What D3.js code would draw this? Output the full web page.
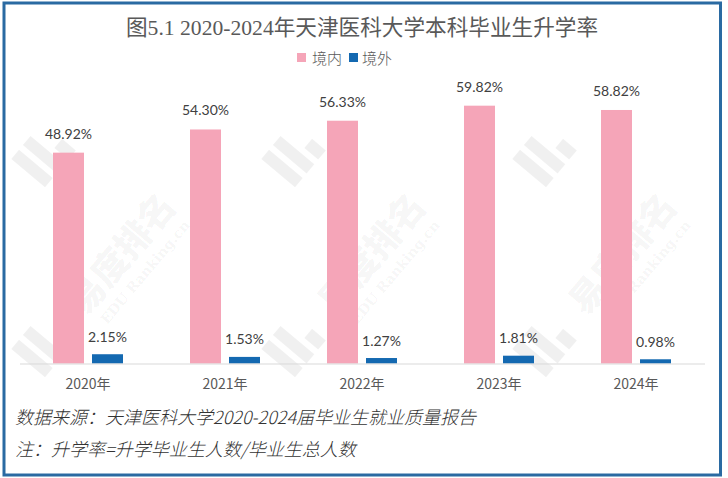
<!DOCTYPE html>
<html>
<head>
<meta charset="utf-8">
<script src="https://cdn.jsdelivr.net/npm/d3@7/dist/d3.min.js"></script>
<style>
  html, body { margin: 0; padding: 0; background: #ffffff; }
  svg { display: block; }
</style>
</head>
<body>
<svg id="chart" width="728" height="478"></svg>
<script>
// ---- data ----
const years = ["2020年", "2021年", "2022年", "2023年", "2024年"];
const seriesNames = ["境内", "境外"];
const domestic = [48.92, 54.30, 56.33, 59.82, 58.82];
const abroad = [2.15, 1.53, 1.27, 1.81, 0.98];
const titleText = "图5.1 2020-2024年天津医科大学本科毕业生升学率";
const sourceText = "数据来源：天津医科大学2020-2024届毕业生就业质量报告";
const noteText = "注：升学率=升学毕业生人数/毕业生总人数";
const watermarkMain = "易度排名";
const watermarkSub = "EDU Ranking.cn";

const colors = { "境内": "#f5a5b8", "境外": "#1469b1" };

const svg = d3.select("#chart");
const W = 728, H = 478;

svg.append("rect").attr("x", 0).attr("y", 0).attr("width", W).attr("height", H).attr("fill", "#ffffff");

// ---- watermark (faint, behind everything) ----
const wm = svg.append("g").attr("class", "watermark");
const wmX = [50, 300, 551];
const wmY = [147, 337, 527];
wmY.forEach((yy, row) => wmX.forEach(xx => {
  const g = wm.append("g").attr("transform", `translate(${xx},${yy}) rotate(-50)`);
  [[-34, -22, 12, 44], [-16, -22, 12, 44], [2, 4, 12, 18]].forEach(r => {
    g.append("rect").attr("x", r[0]).attr("y", r[1]).attr("width", r[2]).attr("height", r[3])
      .attr("fill", "#000").attr("fill-opacity", 0.06);
  });
  if (row === 1) {
    g.append("text").attr("x", 38).attr("y", 14)
      .attr("font-family", "'Noto Sans CJK SC', sans-serif").attr("font-weight", 900)
      .attr("font-size", 36).attr("fill", "#000").attr("fill-opacity", 0.05)
      .text(watermarkMain);
    g.append("text").attr("x", 46).attr("y", 36)
      .attr("font-family", "'DejaVu Serif', serif").attr("font-weight", "bold")
      .attr("font-size", 14).attr("fill", "#000").attr("fill-opacity", 0.05)
      .text(watermarkSub);
  }
}));

// ---- scales ----
const x = d3.scaleBand().domain(years).range([19.5, 704.5]).paddingInner(0).paddingOuter(0);
const xs = d3.scaleBand().domain(seriesNames).range([33.5, 103.5]).paddingInner(8 / 39).paddingOuter(0);
const y = d3.scaleLinear().domain([0, 70]).range([363.5, 61.8]);

const rows = years.map((yr, i) => ({ year: yr, values: [
  { key: "境内", v: domestic[i] },
  { key: "境外", v: abroad[i] }
]}));

// ---- bars ----
const groups = svg.append("g").selectAll("g").data(rows).join("g")
  .attr("transform", d => `translate(${x(d.year)},0)`);

groups.selectAll("rect").data(d => d.values).join("rect")
  .attr("x", d => xs(d.key))
  .attr("y", d => y(d.v))
  .attr("width", xs.bandwidth())
  .attr("height", d => y(0) - y(d.v))
  .attr("fill", d => colors[d.key]);

groups.selectAll("text.lbl").data(d => d.values).join("text")
  .attr("class", "lbl")
  .attr("x", d => xs(d.key) + xs.bandwidth() / 2)
  .attr("y", d => y(d.v) - (d.key === "境内" ? 14 : 12.5))
  .attr("text-anchor", "middle")
  .attr("font-family", "Lato, 'Open Sans', sans-serif")
  .attr("font-size", 14)
  .attr("fill", "#404040")
  .text(d => d.v.toFixed(2) + "%");

// ---- axis ----
const axis = svg.append("g").attr("transform", `translate(0,${y(0)})`)
  .call(d3.axisBottom(x).tickSize(0).tickPadding(0));
axis.select(".domain").attr("stroke", "#d9d9d9").attr("stroke-width", 1);
axis.selectAll(".tick text")
  .attr("y", 25.5).attr("dy", 0)
  .attr("font-family", "'Noto Sans CJK SC', sans-serif")
  .attr("font-size", 14)
  .attr("fill", "#595959");

// ---- title ----
svg.append("text")
  .attr("x", 126).attr("y", 35)
  .attr("textLength", 472).attr("lengthAdjust", "spacingAndGlyphs")
  .attr("font-family", "'Liberation Serif', 'Noto Sans CJK SC', serif")
  .attr("font-weight", 400)
  .attr("font-size", 22)
  .attr("fill", "#595959")
  .text(titleText);

// ---- legend ----
const legendPos = [
  { key: "境内", sx: 297, tx: 312 },
  { key: "境外", sx: 349, tx: 362 }
];
const legend = svg.append("g");
legend.selectAll("rect").data(legendPos).join("rect")
  .attr("x", d => d.sx).attr("y", 53).attr("width", 9).attr("height", 9)
  .attr("fill", d => colors[d.key]);
legend.selectAll("text").data(legendPos).join("text")
  .attr("x", d => d.tx).attr("y", 64)
  .attr("font-family", "'Noto Sans CJK SC', sans-serif")
  .attr("font-weight", 300)
  .attr("font-size", 15)
  .attr("fill", "#595959")
  .text(d => d.key);

// ---- footer notes ----
svg.append("text")
  .attr("x", 15).attr("y", 424)
  .attr("font-family", "'Noto Sans CJK SC', sans-serif")
  .attr("font-style", "italic")
  .attr("font-weight", 300)
  .attr("font-size", 18)
  .attr("fill", "#333333")
  .text(sourceText);
svg.append("text")
  .attr("x", 15).attr("y", 456)
  .attr("font-family", "'Noto Sans CJK SC', sans-serif")
  .attr("font-style", "italic")
  .attr("font-weight", 300)
  .attr("font-size", 18)
  .attr("fill", "#333333")
  .text(noteText);

// ---- frame ----
svg.append("rect")
  .attr("x", 4).attr("y", 3).attr("width", 716.5).attr("height", 472)
  .attr("fill", "none").attr("stroke", "#2a6aa2").attr("stroke-width", 3);
</script>
</body>
</html>
